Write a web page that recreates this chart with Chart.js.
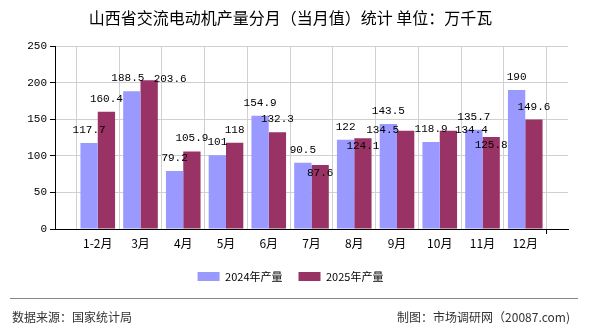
<!DOCTYPE html>
<html>
<head>
<meta charset="utf-8">
<script src="https://cdn.jsdelivr.net/npm/chart.js@4/dist/chart.umd.min.js"></script>
<style>
  body { margin: 0; background: #fff; }
  #wrap { position: relative; width: 590px; height: 330px; }
  #line { position: absolute; left: 10px; top: 298px; width: 568px; height: 1px; background: #888; }
  .foot { position: absolute; top: 309px; font: 12px "Noto Sans CJK SC", sans-serif; color: #333; line-height: 16px; white-space: nowrap; }
</style>
</head>
<body>
<div id="wrap">
  <canvas id="chart" width="590" height="330"></canvas>
  <div id="line"></div>
  <div class="foot" style="left:12px">数据来源：国家统计局</div>
  <div class="foot" style="right:20px">制图：市场调研网（20087.com)</div>
</div>
<script>
// data
const categories = ['1-2月', '3月', '4月', '5月', '6月', '7月', '8月', '9月', '10月', '11月', '12月'];
const output2024 = [117.7, 188.5, 79.2, 101, 154.9, 90.5, 122, 143.5, 118.9, 135.7, 190];
const output2025 = [160.4, 203.6, 105.9, 118, 132.3, 87.6, 124.1, 134.5, 134.4, 125.8, 149.6];
const yTicks = [0, 50, 100, 150, 200, 250];

// label nudges (dx, dy) per dataset, keyed by category index
const labelNudge = [
  { 1: [-4, 0] },
  { 1: [21, 12], 5: [0, 21], 6: [0, 21], 7: [-23, 12], 8: [23, 12], 9: [0, 21] }
];

// empty slot at both ends so the categories sit on the grid lines
const labels = [''].concat(categories, ['']);
const pad = arr => [null].concat(arr, [null]);

const valueLabels = {
  id: 'valueLabels',
  afterDatasetsDraw(chart) {
    const ctx = chart.ctx;
    ctx.save();
    ctx.font = '11px "Liberation Mono", monospace';
    ctx.fillStyle = '#000';
    ctx.textAlign = 'center';
    ctx.textBaseline = 'middle';
    chart.data.datasets.forEach((ds, di) => {
      const meta = chart.getDatasetMeta(di);
      meta.data.forEach((bar, i) => {
        const v = ds.data[i];
        if (v == null) return;
        const n = labelNudge[di][i - 1] || [0, 0];
        ctx.fillText(String(v), bar.x + n[0], bar.y - 13 + n[1]);
      });
    });
    ctx.restore();
  }
};

new Chart(document.getElementById('chart'), {
  type: 'bar',
  data: {
    labels: labels,
    datasets: [
      { label: '2024年产量', data: pad(output2024), backgroundColor: '#9999FF', borderWidth: 0 },
      { label: '2025年产量', data: pad(output2025), backgroundColor: '#993366', borderWidth: 0 }
    ]
  },
  options: {
    responsive: false,
    animation: false,
    categoryPercentage: 0.81,
    barPercentage: 1,
    layout: { padding: { left: 13, right: 22, top: 0, bottom: 38 } },
    plugins: {
      title: {
        display: true,
        text: '山西省交流电动机产量分月（当月值）统计 单位：万千瓦',
        color: '#000',
        font: { family: '"Noto Sans CJK SC"', size: 16, weight: 'normal' },
        padding: { top: 8, bottom: 19 }
      },
      legend: {
        position: 'bottom',
        labels: {
          boxWidth: 22,
          boxHeight: 9,
          padding: 16,
          color: '#000',
          font: { family: '"Noto Sans CJK SC"', size: 11 }
        }
      },
      tooltip: { enabled: false }
    },
    scales: {
      x: {
        offset: false,
        grid: {
          color: '#d0d0d0',
          tickLength: 5,
          tickColor: c => (c.index === 0 || c.index === labels.length - 1) ? '#000' : 'rgba(0,0,0,0)'
        },
        border: { color: '#000' },
        ticks: {
          autoSkip: false,
          maxRotation: 0,
          padding: 2,
          color: '#000',
          font: { family: '"Noto Sans CJK SC"', size: 12 }
        },
        afterFit: s => { s.height = 26; }
      },
      y: {
        min: yTicks[0],
        max: yTicks[yTicks.length - 1],
        afterBuildTicks: s => { s.ticks = yTicks.map(v => ({ value: v })); },
        grid: { color: '#d0d0d0', tickColor: '#000', tickLength: 5 },
        border: { color: '#000' },
        ticks: {
          padding: 3,
          color: '#000',
          font: { family: '"Liberation Mono"', size: 11 }
        },
        afterFit: s => { s.width = 42; }
      }
    }
  },
  plugins: [valueLabels]
});
</script>
</body>
</html>
